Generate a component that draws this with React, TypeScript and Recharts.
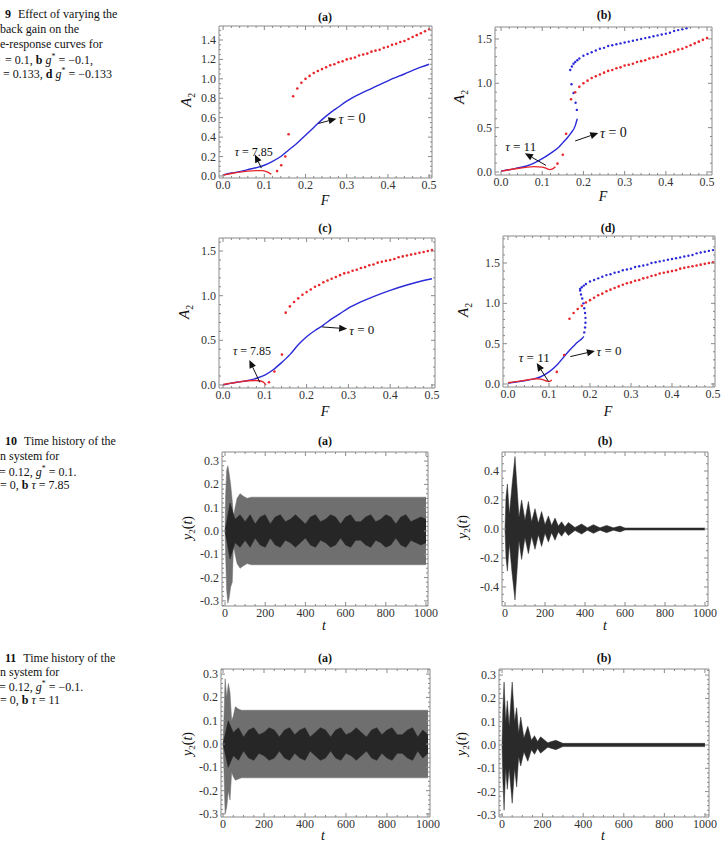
import React from "react";
import {
  ComposedChart,
  Line,
  Scatter,
  Area,
  XAxis,
  YAxis,
  ReferenceArea,
  ReferenceLine,
  ReferenceDot,
} from "recharts";

const SERIF = '"Liberation Serif", "DejaVu Serif", "Times New Roman", serif';
const BLUE = "#2a2ad8";
const RED = "#e8262b";
const AXIS = "#8a8a8a";
const TXT = "#333";

// ---------- Fig. 9 data (F vs A2) ----------
// (a)
const A_BLUE_F = [0, 0.02, 0.04, 0.06, 0.08, 0.1, 0.12, 0.14, 0.16, 0.18, 0.2, 0.22, 0.24, 0.26, 0.28, 0.3, 0.33, 0.36, 0.4, 0.44, 0.48, 0.5];
const A_BLUE = [0.01, 0.03, 0.045, 0.065, 0.085, 0.11, 0.15, 0.2, 0.27, 0.34, 0.42, 0.5, 0.58, 0.65, 0.71, 0.77, 0.84, 0.9, 0.98, 1.05, 1.12, 1.15];
const A_RED_F = [0, 0.02, 0.04, 0.06, 0.08, 0.095, 0.105, 0.112, 0.117];
const A_RED = [0.01, 0.025, 0.04, 0.05, 0.055, 0.055, 0.045, 0.03, 0.02];
const A_RED_LOW_F = [0.131, 0.141, 0.151, 0.159];
const A_RED_LOW = [0.05, 0.11, 0.2, 0.43];
// upper red branch, shared look in (a) and (b)
const AB_RED_UP_F = [0.17, 0.18, 0.19, 0.2, 0.21, 0.22, 0.23, 0.24, 0.25, 0.26, 0.27, 0.28, 0.29, 0.3, 0.31, 0.32, 0.33, 0.34, 0.35, 0.36, 0.37, 0.38, 0.39, 0.4, 0.41, 0.42, 0.43, 0.44, 0.45, 0.46, 0.47, 0.48, 0.49, 0.5];
const AB_RED_UP = [0.82, 0.9, 0.96, 1.0, 1.03, 1.06, 1.08, 1.1, 1.12, 1.14, 1.15, 1.17, 1.18, 1.2, 1.21, 1.22, 1.24, 1.25, 1.26, 1.28, 1.29, 1.3, 1.32, 1.33, 1.35, 1.36, 1.38, 1.39, 1.41, 1.43, 1.45, 1.47, 1.49, 1.51];

// (b)
const B_BLUE_F = [0, 0.02, 0.04, 0.06, 0.08, 0.1, 0.12, 0.14, 0.15, 0.16, 0.17, 0.18, 0.185];
const B_BLUE = [0.01, 0.025, 0.045, 0.065, 0.1, 0.15, 0.21, 0.28, 0.33, 0.38, 0.44, 0.52, 0.6];
const B_BLUE_MID_F = [0.184, 0.181, 0.176, 0.171];
const B_BLUE_MID = [0.7, 0.78, 0.89, 0.99];
const B_BLUE_UP_F = [0.168, 0.172, 0.176, 0.18, 0.185, 0.19, 0.2, 0.21, 0.22, 0.23, 0.24, 0.25, 0.26, 0.27, 0.28, 0.29, 0.3, 0.31, 0.32, 0.33, 0.34, 0.35, 0.36, 0.37, 0.38, 0.39, 0.4, 0.41, 0.42, 0.43, 0.44, 0.45];
const B_BLUE_UP = [1.15, 1.19, 1.22, 1.24, 1.26, 1.28, 1.31, 1.33, 1.35, 1.37, 1.39, 1.4, 1.42, 1.43, 1.44, 1.45, 1.46, 1.47, 1.48, 1.49, 1.5, 1.51, 1.52, 1.53, 1.54, 1.55, 1.56, 1.57, 1.59, 1.6, 1.61, 1.62];
const B_RED_F = [0, 0.02, 0.04, 0.06, 0.08, 0.1, 0.11, 0.118, 0.125, 0.132];
const B_RED = [0.01, 0.025, 0.04, 0.052, 0.06, 0.055, 0.04, 0.027, 0.035, 0.06];
const B_RED_LOW_F = [0.137, 0.15, 0.158];
const B_RED_LOW = [0.094, 0.195, 0.43];

// (c)
const C_BLUE_F = [0, 0.02, 0.04, 0.06, 0.08, 0.1, 0.12, 0.14, 0.16, 0.18, 0.2, 0.22, 0.24, 0.26, 0.28, 0.3, 0.33, 0.36, 0.4, 0.44, 0.48, 0.5];
const C_BLUE = [0.0, 0.02, 0.035, 0.05, 0.075, 0.11, 0.17, 0.25, 0.34, 0.45, 0.54, 0.61, 0.67, 0.74, 0.8, 0.86, 0.93, 0.99, 1.06, 1.12, 1.17, 1.19];
const C_RED_F = [0, 0.02, 0.04, 0.06, 0.08, 0.09, 0.097, 0.103];
const C_RED = [0.005, 0.02, 0.035, 0.048, 0.05, 0.045, 0.03, 0.0];
const C_RED_LOW_F = [0.11, 0.123, 0.141];
const C_RED_LOW = [0.03, 0.15, 0.34];
// upper red branch, shared look in (c) and (d)
const CD_RED_UP_F = [0.15, 0.16, 0.17, 0.18, 0.19, 0.2, 0.21, 0.22, 0.23, 0.24, 0.25, 0.26, 0.27, 0.28, 0.29, 0.3, 0.31, 0.32, 0.33, 0.34, 0.35, 0.36, 0.37, 0.38, 0.39, 0.4, 0.41, 0.42, 0.43, 0.44, 0.45, 0.46, 0.47, 0.48, 0.49, 0.5];
const CD_RED_UP = [0.81, 0.88, 0.93, 0.97, 1.01, 1.04, 1.07, 1.1, 1.12, 1.15, 1.17, 1.19, 1.21, 1.23, 1.25, 1.26, 1.28, 1.29, 1.31, 1.32, 1.34, 1.35, 1.37, 1.38, 1.39, 1.4, 1.41, 1.43, 1.44, 1.45, 1.46, 1.47, 1.48, 1.49, 1.5, 1.51];

// (d)
const D_BLUE_F = [0, 0.02, 0.04, 0.06, 0.08, 0.1, 0.12, 0.14, 0.16, 0.17, 0.18, 0.185];
const D_BLUE = [0.01, 0.025, 0.04, 0.06, 0.09, 0.15, 0.24, 0.36, 0.47, 0.52, 0.56, 0.59];
const D_BLUE_MID_F = [0.186, 0.188, 0.189, 0.189, 0.188, 0.186, 0.184, 0.181, 0.178, 0.176];
const D_BLUE_MID = [0.64, 0.7, 0.76, 0.82, 0.88, 0.94, 1.0, 1.06, 1.11, 1.16];
const D_BLUE_UP_F = [0.176, 0.18, 0.185, 0.19, 0.2, 0.21, 0.22, 0.23, 0.24, 0.25, 0.26, 0.27, 0.28, 0.29, 0.3, 0.31, 0.32, 0.33, 0.34, 0.35, 0.36, 0.37, 0.38, 0.39, 0.4, 0.41, 0.42, 0.43, 0.44, 0.45, 0.46, 0.47, 0.48, 0.49, 0.5];
const D_BLUE_UP = [1.18, 1.2, 1.22, 1.24, 1.27, 1.29, 1.31, 1.33, 1.35, 1.36, 1.38, 1.39, 1.41, 1.42, 1.43, 1.45, 1.46, 1.47, 1.48, 1.5, 1.51, 1.52, 1.53, 1.54, 1.55, 1.56, 1.57, 1.58, 1.59, 1.6, 1.62, 1.63, 1.64, 1.65, 1.66];
const D_RED_F = [0, 0.02, 0.04, 0.06, 0.07, 0.08, 0.09, 0.095, 0.1, 0.107];
const D_RED = [0.015, 0.03, 0.045, 0.06, 0.065, 0.06, 0.045, 0.035, 0.03, 0.05];
const D_RED_LOW_F = [0.119, 0.137];
const D_RED_LOW = [0.15, 0.36];

// ---------- Fig. 10 / 11 data (time histories, envelopes) ----------
const H10A_T = [0, 3, 8, 14, 20, 28, 36, 42, 50, 60, 75, 90, 110, 130, 1000];
const H10A_HI = [0, 0.15, 0.26, 0.28, 0.25, 0.2, 0.13, 0.06, 0.1, 0.14, 0.16, 0.15, 0.14, 0.145, 0.145];
const H10A_LO = [0, -0.1, -0.25, -0.31, -0.29, -0.24, -0.22, -0.06, -0.1, -0.14, -0.16, -0.15, -0.14, -0.145, -0.145];
const IN_T = [0, 25, 50, 75, 100, 125, 150, 175, 200, 225, 250, 275, 300, 325, 350, 375, 400, 425, 450, 475, 500, 525, 550, 575, 600, 625, 650, 675, 700, 725, 750, 775, 800, 825, 850, 875, 900, 925, 950, 975, 1000];
const IN10A = [0, 0.12, 0.05, 0.07, 0.04, 0.07, 0.03, 0.06, 0.07, 0.03, 0.06, 0.07, 0.04, 0.05, 0.07, 0.05, 0.03, 0.06, 0.07, 0.04, 0.05, 0.07, 0.06, 0.03, 0.06, 0.07, 0.04, 0.04, 0.06, 0.07, 0.04, 0.05, 0.07, 0.06, 0.03, 0.06, 0.07, 0.04, 0.05, 0.06, 0.05];

const H10B_T = [0, 5, 12, 22, 35, 50, 62, 70, 83, 100, 117, 133, 150, 167, 183, 200, 217, 233, 250, 267, 283, 300, 317, 350, 383, 412, 442, 475, 508, 542, 575, 600, 1000];
const H10B_HI = [0, 0.22, 0.31, 0.1, 0.3, 0.5, 0.25, 0.08, 0.2, 0.06, 0.19, 0.05, 0.14, 0.04, 0.12, 0.03, 0.09, 0.025, 0.075, 0.02, 0.05, 0.015, 0.045, 0.01, 0.035, 0.008, 0.03, 0.008, 0.025, 0.008, 0.02, 0.007, 0.007];
const H10B_LO = [0, -0.2, -0.29, -0.1, -0.3, -0.49, -0.25, -0.08, -0.21, -0.06, -0.17, -0.05, -0.14, -0.04, -0.12, -0.03, -0.09, -0.025, -0.077, -0.02, -0.05, -0.015, -0.045, -0.01, -0.035, -0.008, -0.03, -0.008, -0.025, -0.008, -0.02, -0.007, -0.007];

const H11A_T = [0, 4, 10, 18, 26, 34, 42, 50, 60, 75, 90, 1000];
const H11A_HI = [0, 0.1, 0.28, 0.2, 0.26, 0.22, 0.1, 0.12, 0.16, 0.15, 0.145, 0.145];
const H11A_LO = [0, -0.1, -0.3, -0.27, -0.2, -0.24, -0.12, -0.14, -0.155, -0.15, -0.145, -0.145];
const IN11A = [0, 0.1, 0.05, 0.07, 0.03, 0.06, 0.07, 0.04, 0.05, 0.07, 0.06, 0.03, 0.06, 0.07, 0.04, 0.06, 0.07, 0.03, 0.05, 0.07, 0.06, 0.03, 0.06, 0.07, 0.04, 0.05, 0.07, 0.05, 0.03, 0.06, 0.07, 0.04, 0.06, 0.07, 0.04, 0.04, 0.06, 0.07, 0.03, 0.06, 0.04];

const H11B_T = [0, 4, 10, 18, 26, 35, 50, 62, 72, 82, 92, 108, 127, 145, 160, 175, 190, 225, 265, 300, 1000];
const H11B_HI = [0, 0.15, 0.27, 0.1, 0.19, 0.08, 0.27, 0.1, 0.16, 0.05, 0.12, 0.03, 0.08, 0.02, 0.04, 0.015, 0.035, 0.01, 0.02, 0.007, 0.007];
const H11B_LO = [0, -0.15, -0.28, -0.1, -0.19, -0.1, -0.25, -0.1, -0.18, -0.05, -0.09, -0.03, -0.07, -0.02, -0.04, -0.015, -0.035, -0.01, -0.02, -0.007, -0.007];

type P = { x: number; y: number };
const pts = (xs: number[], ys: number[]): P[] => xs.map((x, i) => ({ x, y: ys[i] }));
const band = (xs: number[], lo: number[], hi: number[]) => xs.map((x, i) => ({ x, y: [lo[i], hi[i]] }));
const sym = (xs: number[], a: number[]) => xs.map((x, i) => ({ x, y: [-a[i], a[i]] }));

const stepTicks = (dom: [number, number], step: number) => {
  const out: number[] = [];
  for (let k = Math.ceil(dom[0] / step - 1e-9); k * step <= dom[1] + 1e-9; k++) {
    out.push(Math.round(k * step * 1e6) / 1e6);
  }
  return out;
};

interface PanelProps {
  box: [number, number, number, number];
  xDom: [number, number];
  yDom: [number, number];
  xMajor: number;
  xMinor: number;
  yMajor: number;
  yMinor: number;
  xFmt: (v: number) => string;
  yFmt: (v: number) => string;
  children?: React.ReactNode;
}

// space around the plot frame: axis boxes take the room for tick labels
const PAD = { top: 6, right: 10 };
const XH = 26;
const YW = 38;
const TICK_FS = 12;

function Panel({ box, xDom, yDom, xMajor, xMinor, yMajor, yMinor, xFmt, yFmt, children }: PanelProps) {
  const [l, t, r, b] = box;
  const w = r - l;
  const h = b - t;
  const isMajor = (v: number, step: number) => Math.abs(v / step - Math.round(v / step)) < 1e-6;
  // bottom-left corner of the frame in chart coordinates
  const fx = YW;
  const fy = PAD.top + h;

  const xTick = (p: any) => {
    const v = p.payload.value;
    const maj = isMajor(v, xMajor);
    const len = maj ? 4 : 2;
    const x = p.x;
    return (
      <g>
        <line x1={x} x2={x} y1={fy} y2={fy - len} stroke={AXIS} />
        <line x1={x} x2={x} y1={fy - h} y2={fy - h + len} stroke={AXIS} />
        {maj && (
          <text x={x} y={fy + 11} textAnchor="middle" fontSize={TICK_FS} fill={TXT} fontFamily={SERIF}>
            {xFmt(v)}
          </text>
        )}
      </g>
    );
  };

  const yTick = (p: any) => {
    const v = p.payload.value;
    const maj = isMajor(v, yMajor);
    const len = maj ? 4 : 2;
    const y = p.y;
    return (
      <g>
        <line x1={fx} x2={fx + len} y1={y} y2={y} stroke={AXIS} />
        <line x1={fx + w} x2={fx + w - len} y1={y} y2={y} stroke={AXIS} />
        {maj && (
          <text x={fx - 3} y={y + 4} textAnchor="end" fontSize={TICK_FS} fill={TXT} fontFamily={SERIF}>
            {yFmt(v)}
          </text>
        )}
      </g>
    );
  };

  return (
    <div style={{ position: "absolute", left: l - YW, top: t - PAD.top }}>
      <ComposedChart
        width={w + YW + PAD.right}
        height={h + PAD.top + XH}
        margin={{ top: PAD.top, right: PAD.right, bottom: 0, left: 0 }}
      >
        <XAxis
          type="number"
          dataKey="x"
          domain={xDom}
          allowDataOverflow
          ticks={stepTicks(xDom, xMinor)}
          interval={0}
          height={XH}
          axisLine={false}
          tickLine={false}
          tick={xTick}
        />
        <YAxis
          type="number"
          domain={yDom}
          allowDataOverflow
          ticks={stepTicks(yDom, yMinor)}
          interval={0}
          width={YW}
          axisLine={false}
          tickLine={false}
          tick={yTick}
        />
        {children}
        <ReferenceArea
          x1={xDom[0]}
          x2={xDom[1]}
          y1={yDom[0]}
          y2={yDom[1]}
          fill="none"
          fillOpacity={0}
          stroke={AXIS}
          strokeWidth={1}
          ifOverflow="visible"
        />
      </ComposedChart>
    </div>
  );
}

const solid = (data: P[], color: string) => (
  <Line data={data} dataKey="y" type="monotone" dot={false} stroke={color} strokeWidth={1.4} isAnimationActive={false} />
);

const dots = (data: P[], color: string, r = 1.3) => (
  <Scatter
    data={data}
    dataKey="y"
    fill={color}
    isAnimationActive={false}
    shape={(p: any) => <circle cx={p.cx} cy={p.cy} r={r} fill={color} />}
  />
);

const envelope = (data: any[], color: string) => (
  <Area data={data} dataKey="y" type="linear" stroke={color} strokeWidth={0.5} fill={color} fillOpacity={1} isAnimationActive={false} />
);

const arrowShape = (p: any) => {
  const { x1, y1, x2, y2 } = p;
  const ang = Math.atan2(y2 - y1, x2 - x1);
  const L = 8;
  const W = 3.5;
  const bx = x2 - L * Math.cos(ang);
  const by = y2 - L * Math.sin(ang);
  const px = -Math.sin(ang) * W;
  const py = Math.cos(ang) * W;
  return (
    <g>
      <line x1={x1} y1={y1} x2={bx} y2={by} stroke="#111" strokeWidth={1} />
      <polygon points={`${x2},${y2} ${bx + px},${by + py} ${bx - px},${by - py}`} fill="#111" />
    </g>
  );
};

const arrow = (a: [number, number], b: [number, number]) => (
  <ReferenceLine
    segment={[{ x: a[0], y: a[1] }, { x: b[0], y: b[1] }]}
    ifOverflow="visible"
    shape={arrowShape}
  />
);

const tauNote = (at: [number, number], value: string, size: number) => (
  <ReferenceDot
    x={at[0]}
    y={at[1]}
    r={0}
    ifOverflow="visible"
    shape={(p: any) => (
      <text x={p.cx} y={p.cy} fontSize={size} fontFamily={SERIF} fill="#111" dominantBaseline="central">
        <tspan fontStyle="italic">τ</tspan>
        {` = ${value}`}
      </text>
    )}
  />
);

// annotation anchors (data coordinates)
const A_ARROW0: [number, number][] = [[0.231, 0.54], [0.275, 0.59]];
const A_ARROWT: [number, number][] = [[0.093, 0.08], [0.077, 0.22]];
const B_ARROW0: [number, number][] = [[0.18, 0.35], [0.236, 0.44]];
const B_ARROWT: [number, number][] = [[0.109, 0.075], [0.058, 0.21]];
const C_ARROW0: [number, number][] = [[0.237, 0.65], [0.297, 0.63]];
const C_ARROWT: [number, number][] = [[0.088, 0.03], [0.063, 0.28]];
const D_ARROW0: [number, number][] = [[0.152, 0.34], [0.212, 0.41]];
const D_ARROWT: [number, number][] = [[0.099, 0.03], [0.07, 0.26]];

function Label({
  x,
  y,
  size = 12,
  rotate = false,
  bold = false,
  children,
}: {
  x: number;
  y: number;
  size?: number;
  rotate?: boolean;
  bold?: boolean;
  children: React.ReactNode;
}) {
  return (
    <div
      style={{
        position: "absolute",
        left: x,
        top: y,
        transform: `translate(-50%, -50%)${rotate ? " rotate(-90deg)" : ""}`,
        fontFamily: SERIF,
        fontSize: size,
        fontWeight: bold ? 700 : 400,
        lineHeight: 1,
        whiteSpace: "nowrap",
        color: "#111",
      }}
    >
      {children}
    </div>
  );
}

function Caption({ x, y, children }: { x: number; y: number; children: React.ReactNode }) {
  return (
    <div
      style={{
        position: "absolute",
        left: x,
        top: y,
        transform: "translateY(-50%)",
        fontFamily: SERIF,
        fontSize: 12,
        lineHeight: 1,
        whiteSpace: "nowrap",
        color: "#111",
      }}
    >
      {children}
    </div>
  );
}

const A2 = (
  <span>
    <i>A</i>
    <sub style={{ fontSize: "0.65em" }}>2</sub>
  </span>
);
const Y2 = (
  <span>
    <i>y</i>
    <sub style={{ fontSize: "0.65em" }}>2</sub>(<i>t</i>)
  </span>
);
const G = (
  <span>
    <i>g</i>
    <sup style={{ fontSize: "0.65em" }}>*</sup>
  </span>
);

const f1 = (v: number) => v.toFixed(1);
const f0 = (v: number) => String(Math.round(v));

export default function App() {
  return (
    <div
      style={{
        position: "absolute",
        left: 0,
        top: 0,
        width: 726,
        height: 855,
        overflow: "hidden",
        background: "#fff",
      }}
    >
      {/* captions */}
      <Caption x={5} y={14}>
        <b>9</b>
        <span style={{ marginLeft: 7 }}>Effect of varying the</span>
      </Caption>
      <Caption x={0} y={29}>back gain on the</Caption>
      <Caption x={0} y={44}>e-response curves for</Caption>
      <Caption x={5} y={59}>
        = 0.1, <b>b</b> {G} = −0.1,
      </Caption>
      <Caption x={3} y={73}>
        = 0.133, <b>d</b> {G} = −0.133
      </Caption>

      <Caption x={5} y={441}>
        <b>10</b>
        <span style={{ marginLeft: 7 }}>Time history of the</span>
      </Caption>
      <Caption x={0} y={456}>n system for</Caption>
      <Caption x={-1} y={471}>
        = 0.12, {G} = 0.1.
      </Caption>
      <Caption x={0} y={485}>
        = 0, <b>b</b> <i>τ</i> = 7.85
      </Caption>

      <Caption x={5} y={658}>
        <b>11</b>
        <span style={{ marginLeft: 7 }}>Time history of the</span>
      </Caption>
      <Caption x={0} y={672}>n system for</Caption>
      <Caption x={-1} y={686}>
        = 0.12, {G} = −0.1.
      </Caption>
      <Caption x={0} y={700}>
        = 0, <b>b</b> <i>τ</i> = 11
      </Caption>

      {/* Fig 9 (a) */}
      <Panel box={[219, 26, 432, 178]} xDom={[-0.01, 0.507]} yDom={[-0.021, 1.544]} xMajor={0.1} xMinor={0.02} yMajor={0.2} yMinor={0.05} xFmt={f1} yFmt={f1}>
        {solid(pts(A_BLUE_F, A_BLUE), BLUE)}
        {solid(pts(A_RED_F, A_RED), RED)}
        {dots(pts(A_RED_LOW_F, A_RED_LOW), RED)}
        {dots(pts(AB_RED_UP_F, AB_RED_UP), RED)}
        {arrow(A_ARROW0[0], A_ARROW0[1])}
        {arrow(A_ARROWT[0], A_ARROWT[1])}
        {tauNote([0.28, 0.59], "0", 14)}
        {tauNote([0.028, 0.25], "7.85", 12)}
      </Panel>
      <Label x={325} y={17} bold>(a)</Label>
      <Label x={188} y={100} size={15} rotate>{A2}</Label>
      <Label x={325} y={201} size={14}><i>F</i></Label>

      {/* Fig 9 (b) */}
      <Panel box={[495, 27, 712, 175]} xDom={[-0.0146, 0.512]} yDom={[-0.034, 1.635]} xMajor={0.1} xMinor={0.02} yMajor={0.5} yMinor={0.1} xFmt={f1} yFmt={f1}>
        {solid(pts(B_BLUE_F, B_BLUE), BLUE)}
        {dots(pts(B_BLUE_MID_F, B_BLUE_MID), BLUE, 1.2)}
        {dots(pts(B_BLUE_UP_F, B_BLUE_UP), BLUE, 1.2)}
        {solid(pts(B_RED_F, B_RED), RED)}
        {dots(pts(B_RED_LOW_F, B_RED_LOW), RED)}
        {dots(pts(AB_RED_UP_F, AB_RED_UP), RED)}
        {arrow(B_ARROW0[0], B_ARROW0[1])}
        {arrow(B_ARROWT[0], B_ARROWT[1])}
        {tauNote([0.24, 0.44], "0", 14)}
        {tauNote([0.01, 0.29], "11", 13)}
      </Panel>
      <Label x={604} y={15} bold>(b)</Label>
      <Label x={461} y={97} size={15} rotate>{A2}</Label>
      <Label x={603} y={197} size={14}><i>F</i></Label>

      {/* Fig 9 (c) */}
      <Panel box={[219, 238, 435, 388]} xDom={[-0.0096, 0.5072]} yDom={[-0.034, 1.646]} xMajor={0.1} xMinor={0.02} yMajor={0.5} yMinor={0.1} xFmt={f1} yFmt={f1}>
        {solid(pts(C_BLUE_F, C_BLUE), BLUE)}
        {solid(pts(C_RED_F, C_RED), RED)}
        {dots(pts(C_RED_LOW_F, C_RED_LOW), RED)}
        {dots(pts(CD_RED_UP_F, CD_RED_UP), RED)}
        {arrow(C_ARROW0[0], C_ARROW0[1])}
        {arrow(C_ARROWT[0], C_ARROWT[1])}
        {tauNote([0.302, 0.62], "0", 13)}
        {tauNote([0.024, 0.38], "7.85", 12)}
      </Panel>
      <Label x={325} y={228} bold>(c)</Label>
      <Label x={186} y={312} size={15} rotate>{A2}</Label>
      <Label x={325} y={412} size={14}><i>F</i></Label>

      {/* Fig 9 (d) */}
      <Panel box={[503, 236, 715, 387]} xDom={[-0.0122, 0.5049]} yDom={[-0.037, 1.835]} xMajor={0.1} xMinor={0.02} yMajor={0.5} yMinor={0.1} xFmt={f1} yFmt={f1}>
        {solid(pts(D_BLUE_F, D_BLUE), BLUE)}
        {dots(pts(D_BLUE_MID_F, D_BLUE_MID), BLUE, 1.2)}
        {dots(pts(D_BLUE_UP_F, D_BLUE_UP), BLUE, 1.2)}
        {solid(pts(D_RED_F, D_RED), RED)}
        {dots(pts(D_RED_LOW_F, D_RED_LOW), RED)}
        {dots(pts(CD_RED_UP_F, CD_RED_UP), RED)}
        {arrow(D_ARROW0[0], D_ARROW0[1])}
        {arrow(D_ARROWT[0], D_ARROWT[1])}
        {tauNote([0.216, 0.41], "0", 13)}
        {tauNote([0.026, 0.33], "11", 13)}
      </Panel>
      <Label x={608} y={228} bold>(d)</Label>
      <Label x={465} y={310} size={15} rotate>{A2}</Label>
      <Label x={608} y={412} size={14}><i>F</i></Label>

      {/* Fig 10 (a) */}
      <Panel box={[222, 452, 428, 606]} xDom={[-15, 1010]} yDom={[-0.322, 0.339]} xMajor={200} xMinor={50} yMajor={0.1} yMinor={0.02} xFmt={f0} yFmt={f1}>
        {envelope(band(H10A_T, H10A_LO, H10A_HI), "#6f6f6f")}
        {envelope(sym(IN_T, IN10A), "#262626")}
      </Panel>
      <Label x={325} y={441} bold>(a)</Label>
      <Label x={189} y={528} size={14} rotate>{Y2}</Label>
      <Label x={324} y={626} size={14}><i>t</i></Label>

      {/* Fig 10 (b) */}
      <Panel box={[502, 452, 708, 606]} xDom={[-15, 1015]} yDom={[-0.531, 0.531]} xMajor={200} xMinor={50} yMajor={0.2} yMinor={0.05} xFmt={f0} yFmt={f1}>
        {envelope(band(H10B_T, H10B_LO, H10B_HI), "#2a2a2a")}
      </Panel>
      <Label x={605} y={441} bold>(b)</Label>
      <Label x={464} y={527} size={14} rotate>{Y2}</Label>
      <Label x={605} y={626} size={14}><i>t</i></Label>

      {/* Fig 11 (a) */}
      <Panel box={[221, 669, 430, 817]} xDom={[-10, 1010]} yDom={[-0.313, 0.322]} xMajor={200} xMinor={50} yMajor={0.1} yMinor={0.02} xFmt={f0} yFmt={f1}>
        {envelope(band(H11A_T, H11A_LO, H11A_HI), "#6f6f6f")}
        {envelope(sym(IN_T, IN11A), "#262626")}
      </Panel>
      <Label x={325} y={658} bold>(a)</Label>
      <Label x={189} y={744} size={14} rotate>{Y2}</Label>
      <Label x={323} y={836} size={14}><i>t</i></Label>

      {/* Fig 11 (b) */}
      <Panel box={[499, 669, 709, 817]} xDom={[-15, 1020]} yDom={[-0.309, 0.326]} xMajor={200} xMinor={50} yMajor={0.1} yMinor={0.02} xFmt={f0} yFmt={f1}>
        {envelope(band(H11B_T, H11B_LO, H11B_HI), "#2a2a2a")}
      </Panel>
      <Label x={604} y={658} bold>(b)</Label>
      <Label x={463} y={744} size={14} rotate>{Y2}</Label>
      <Label x={603} y={836} size={14}><i>t</i></Label>
    </div>
  );
}
